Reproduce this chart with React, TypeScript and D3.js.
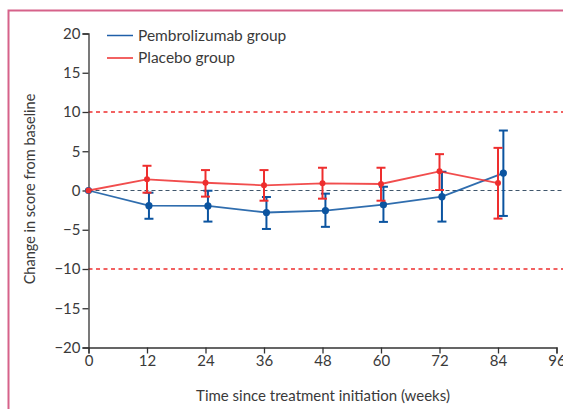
import * as d3 from 'd3'
import { useEffect, useRef } from 'react'

// weeks of each visit (pembrolizumab points are drawn slightly offset in the source)
const placeboWeeks = [0, 12, 24, 36, 48, 60, 72, 84]
const pembroWeeks = [0, 12.4, 24.5, 36.5, 48.6, 60.5, 72.5, 85.1]

const pembroMean = [0, -1.93, -1.97, -2.8, -2.56, -1.8, -0.79, 2.22]
const pembroUpper = [null, -0.28, -0.03, -0.83, -0.4, 0.48, 2.39, 7.64]
const pembroLower = [null, -3.6, -3.96, -4.9, -4.63, -4.0, -3.96, -3.24]

const placeboMean = [0, 1.42, 0.99, 0.66, 0.91, 0.83, 2.44, 0.95]
const placeboUpper = [null, 3.15, 2.6, 2.6, 2.9, 2.9, 4.63, 5.43]
const placeboLower = [null, -0.28, -0.78, -1.3, -1.04, -1.3, 0.06, -3.58]

const xTicks = [0, 12, 24, 36, 48, 60, 72, 84, 96]
const yTicks = [20, 15, 10, 5, 0, -5, -10, -15, -20]
const refLines = [10, -10]

const BLUE = '#0b54a0'
const RED = '#ee2e2e'
const FONT = 'Lato, "Noto Sans", sans-serif'

const App = () => {
  const ref = useRef<HTMLDivElement>(null)

  useEffect(() => {
    if (!ref.current) return
    const width = 563
    const height = 409

    d3.select(ref.current).select('svg').remove()

    const svg = d3
      .select(ref.current)
      .append('svg')
      .attr('width', width)
      .attr('height', height)
      .style('position', 'absolute')
      .style('left', '0px')
      .style('top', '0px')
      .style('font-family', FONT)

    svg.append('rect').attr('width', width).attr('height', height).attr('fill', '#fff')

    // pink frame
    svg
      .append('rect')
      .attr('x', 8.5)
      .attr('y', 10.5)
      .attr('width', 700)
      .attr('height', 600)
      .attr('fill', 'none')
      .attr('stroke', '#d6628a')
      .attr('stroke-width', 2)

    const x = d3.scaleLinear().domain([0, 96]).range([88.5, 556.5])
    const y = d3.scaleLinear().domain([-20, 20]).range([347.5, 33.5])

    // reference lines
    svg
      .selectAll('line.ref')
      .data(refLines)
      .enter()
      .append('line')
      .attr('x1', x(0))
      .attr('x2', width)
      .attr('y1', (d) => y(d))
      .attr('y2', (d) => y(d))
      .attr('stroke', RED)
      .attr('stroke-width', 1.3)
      .attr('stroke-dasharray', '4,3.5')

    svg
      .append('line')
      .attr('x1', x(0))
      .attr('x2', width)
      .attr('y1', y(0))
      .attr('y2', y(0))
      .attr('stroke', '#40566c')
      .attr('stroke-width', 1.2)
      .attr('stroke-dasharray', '4,3')

    // axes
    const yAxis = svg
      .append('g')
      .attr('transform', `translate(${x(0)},0)`)
      .call(
        d3
          .axisLeft(y)
          .tickValues(yTicks)
          .tickSize(6)
          .tickPadding(2)
          .tickFormat((d) => String(d).replace('-', '\u2212'))
      )
    const xAxis = svg
      .append('g')
      .attr('transform', `translate(0,${y(-20)})`)
      .call(d3.axisBottom(x).tickValues(xTicks).tickSize(6).tickPadding(2))

    for (const g of [yAxis, xAxis]) {
      g.select('.domain').attr('stroke', '#333').attr('stroke-width', 1.3)
      g.selectAll('.tick line').attr('stroke', '#333').attr('stroke-width', 1.3)
      g.selectAll('text')
        .style('font-family', FONT)
        .style('font-size', '15px')
        .attr('fill', '#3a3a3a')
    }

    svg
      .append('text')
      .attr('transform', `translate(35,189) rotate(-90)`)
      .attr('text-anchor', 'middle')
      .style('font-size', '14.5px')
      .attr('fill', '#3a3a3a')
      .text('Change in score from baseline')

    svg
      .append('text')
      .attr('x', 323)
      .attr('y', 401)
      .attr('text-anchor', 'middle')
      .style('font-size', '15px')
      .attr('fill', '#3a3a3a')
      .text('Time since treatment initiation (weeks)')

    const drawSeries = (
      weeks: number[],
      mean: number[],
      upper: (number | null)[],
      lower: (number | null)[],
      color: string,
      r: number
    ) => {
      const g = svg.append('g')
      const line = d3
        .line<number>()
        .x((_, i) => x(weeks[i]))
        .y((d) => y(d))
      g.append('path')
        .datum(mean)
        .attr('d', line)
        .attr('fill', 'none')
        .attr('stroke', color)
        .attr('stroke-opacity', 0.85)
        .attr('stroke-width', 1.8)

      const idx = d3.range(mean.length).filter((i) => upper[i] != null)
      const cap = 4.5
      idx.forEach((i) => {
        const cx = x(weeks[i])
        const y1 = y(upper[i] as number)
        const y2 = y(lower[i] as number)
        g.append('line')
          .attr('x1', cx).attr('x2', cx).attr('y1', y1).attr('y2', y2)
          .attr('stroke', color).attr('stroke-width', 2)
        for (const yy of [y1, y2]) {
          g.append('line')
            .attr('x1', cx - cap).attr('x2', cx + cap).attr('y1', yy).attr('y2', yy)
            .attr('stroke', color).attr('stroke-width', 2)
        }
      })

      g.selectAll('circle')
        .data(mean)
        .enter()
        .append('circle')
        .attr('cx', (_, i) => x(weeks[i]))
        .attr('cy', (d) => y(d))
        .attr('r', r)
        .attr('fill', color)
    }

    drawSeries(pembroWeeks, pembroMean, pembroUpper, pembroLower, BLUE, 3.6)
    drawSeries(placeboWeeks, placeboMean, placeboUpper, placeboLower, RED, 3)

    // legend
    const legend = [
      { label: 'Pembrolizumab group', color: '#1f5fa8' },
      { label: 'Placebo group', color: RED },
    ]
    const lg = svg
      .selectAll('g.legend')
      .data(legend)
      .enter()
      .append('g')
      .attr('transform', (_, i) => `translate(107,${35.5 + i * 22.5})`)
    lg.append('line')
      .attr('x1', 0)
      .attr('x2', 26)
      .attr('stroke', (d) => d.color)
      .attr('stroke-width', 1.5)
    lg.append('text')
      .attr('x', 31)
      .attr('dy', '0.35em')
      .style('font-size', '15.5px')
      .attr('fill', '#3a3a3a')
      .text((d) => d.label)
  }, [])

  return (
    <div>
      <div ref={ref} />
    </div>
  )
}

export default App
